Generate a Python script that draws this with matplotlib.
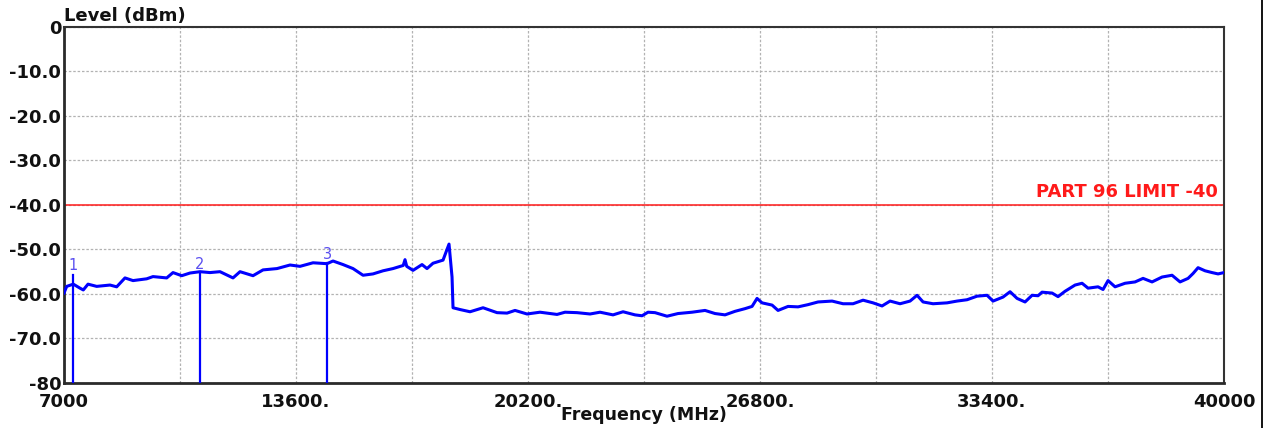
import numpy as np
import matplotlib
matplotlib.use("Agg")
import matplotlib.pyplot as plt
from matplotlib.lines import Line2D

# spectrum trace (MHz, dBm)
trace_freq = [
    7000, 7077, 7265, 7455, 7549, 7683, 7930, 8309, 8499, 8735, 8963, 9353, 9532,
    9922, 10101, 10349, 10585, 10869, 11154, 11438, 11808, 12007, 12377, 12662,
    13060, 13430, 13714, 14084, 14482, 14653, 14938, 15222, 15507, 15791, 16076,
    16360, 16650, 16701, 16750, 16929, 17185, 17327, 17498, 17783, 17896, 17953,
    17996, 18039, 18067, 18266, 18551, 18921, 19319, 19603, 19831, 20172, 20542,
    21026, 21253, 21595, 21965, 22249, 22619, 22904, 23245, 23444, 23615, 23814,
    24155, 24468, 24867, 25236, 25521, 25805, 26090, 26374, 26574, 26716, 26858,
    27143, 27313, 27598, 27882, 28167, 28451, 28850, 29163, 29447, 29732, 30016,
    30272, 30500, 30784, 31069, 31268, 31439, 31723, 32121, 32406, 32690, 32975,
    33259, 33430, 33714, 33914, 34113, 34340, 34540, 34710, 34824, 35109, 35279,
    35478, 35763, 35962, 36133, 36417, 36559, 36702, 36901, 37185, 37470, 37697,
    37953, 38238, 38522, 38750, 38978, 39120, 39262, 39461, 39660, 39831, 40000,
]
trace_level = [
    -59.8, -58.3, -57.8, -58.7, -59.1, -57.8, -58.3, -58.0, -58.4, -56.4, -57.0, -56.6, -56.1,
    -56.4, -55.2, -55.9, -55.3, -55.0, -55.2, -55.0, -56.4, -55.0, -55.9, -54.6,
    -54.3, -53.5, -53.8, -53.0, -53.2, -52.6, -53.4, -54.3, -55.8, -55.5, -54.8,
    -54.3, -53.6, -52.3, -53.8, -54.7, -53.4, -54.3, -53.1, -52.4, -50.0, -48.8,
    -52.5, -56.2, -63.1, -63.5, -64.0, -63.1, -64.2, -64.3, -63.7, -64.5, -64.1,
    -64.6, -64.1, -64.2, -64.5, -64.1, -64.7, -64.0, -64.7, -64.9, -64.1, -64.2,
    -65.0, -64.4, -64.1, -63.7, -64.4, -64.7, -63.9, -63.3, -62.8, -61.0, -62.0,
    -62.5, -63.7, -62.8, -62.9, -62.4, -61.8, -61.6, -62.2, -62.2, -61.4, -62.0,
    -62.7, -61.6, -62.2, -61.6, -60.3, -61.8, -62.2, -62.0, -61.6, -61.3, -60.5,
    -60.3, -61.6, -60.7, -59.5, -61.0, -61.8, -60.3, -60.4, -59.6, -59.8, -60.6,
    -59.4, -58.0, -57.6, -58.7, -58.4, -59.0, -57.0, -58.4, -57.6, -57.3, -56.5,
    -57.3, -56.2, -55.8, -57.3, -56.5, -55.4, -54.1, -54.8, -55.2, -55.5, -55.2,
]

# markers
marker_freq = [7265, 10869, 14482]
marker_level = [-55.7, -55.3, -53.1]
marker_names = ["1", "2", "3"]

limit_level = -40
limit_label = "PART 96 LIMIT -40"

x_major = [7000, 13600, 20200, 26800, 33400, 40000]
x_major_labels = ["7000", "13600.", "20200.", "26800.", "33400.", "40000"]
x_minor = [10300, 16900, 23500, 30100, 36700]
y_ticks = [0, -10, -20, -30, -40, -50, -60, -70, -80]
y_tick_labels = ["0", "-10.0", "-20.0", "-30.0", "-40.0", "-50.0", "-60.0", "-70.0", "-80"]

W, H = 1270, 428
fig = plt.figure(figsize=(W / 100, H / 100), dpi=100)
ax = fig.add_axes([64 / W, 1 - 383 / H, (1224 - 64) / W, (383 - 26.8) / H])

ax.set_xlim(7000, 40000)
ax.set_ylim(-80, 0)

ax.set_xticks(x_major)
ax.set_xticklabels(x_major_labels, fontsize=13, fontweight="bold", color="#111111")
ax.set_xticks(x_minor, minor=True)
ax.set_yticks(y_ticks)
ax.set_yticklabels(y_tick_labels, fontsize=13, fontweight="bold", color="#111111")
ax.tick_params(which="both", length=0)
ax.tick_params(axis="x", pad=7)
ax.tick_params(axis="y", pad=2)
ax.grid(True, which="both", color="#b2b2b2", lw=0.9, ls=(0, (2, 1.5)))
ax.set_axisbelow(True)

for side in ["left", "bottom"]:
    ax.spines[side].set_linewidth(2.0)
    ax.spines[side].set_color("#2a2a2a")
for side in ["top", "right"]:
    ax.spines[side].set_linewidth(1.5)
    ax.spines[side].set_color("#333333")

# limit line
ax.axhline(limit_level, color="#ff1a1a", lw=1.1, zorder=2)
ax.text(39830, limit_level + 0.8, limit_label, color="#ff1a1a", fontsize=13,
        fontweight="bold", ha="right", va="bottom")

# trace
ax.plot(trace_freq, trace_level, color="#0000ff", lw=2.2, zorder=3)

# marker lines and labels
for f, v, name in zip(marker_freq, marker_level, marker_names):
    ax.plot([f, f], [-80, v], color="#0000ff", lw=1.6, zorder=3)
    ax.text(f, v + 0.3, name, color="#5a4ff0", fontsize=10.5, ha="center", va="bottom", zorder=4)

ax.text(0, 1.004, "Level (dBm)", transform=ax.transAxes, fontsize=13,
        fontweight="bold", ha="left", va="bottom", color="#111111")
fig.text(644 / W, 1 - 415 / H, "Frequency (MHz)", fontsize=12.5, fontweight="bold",
         ha="center", va="center", color="#111111")

# right frame edge of the original screenshot
fig.add_artist(Line2D([1262 / W, 1262 / W], [0, 1], color="black", lw=1.3,
                      transform=fig.transFigure))

fig.savefig("out.png", dpi=100)
